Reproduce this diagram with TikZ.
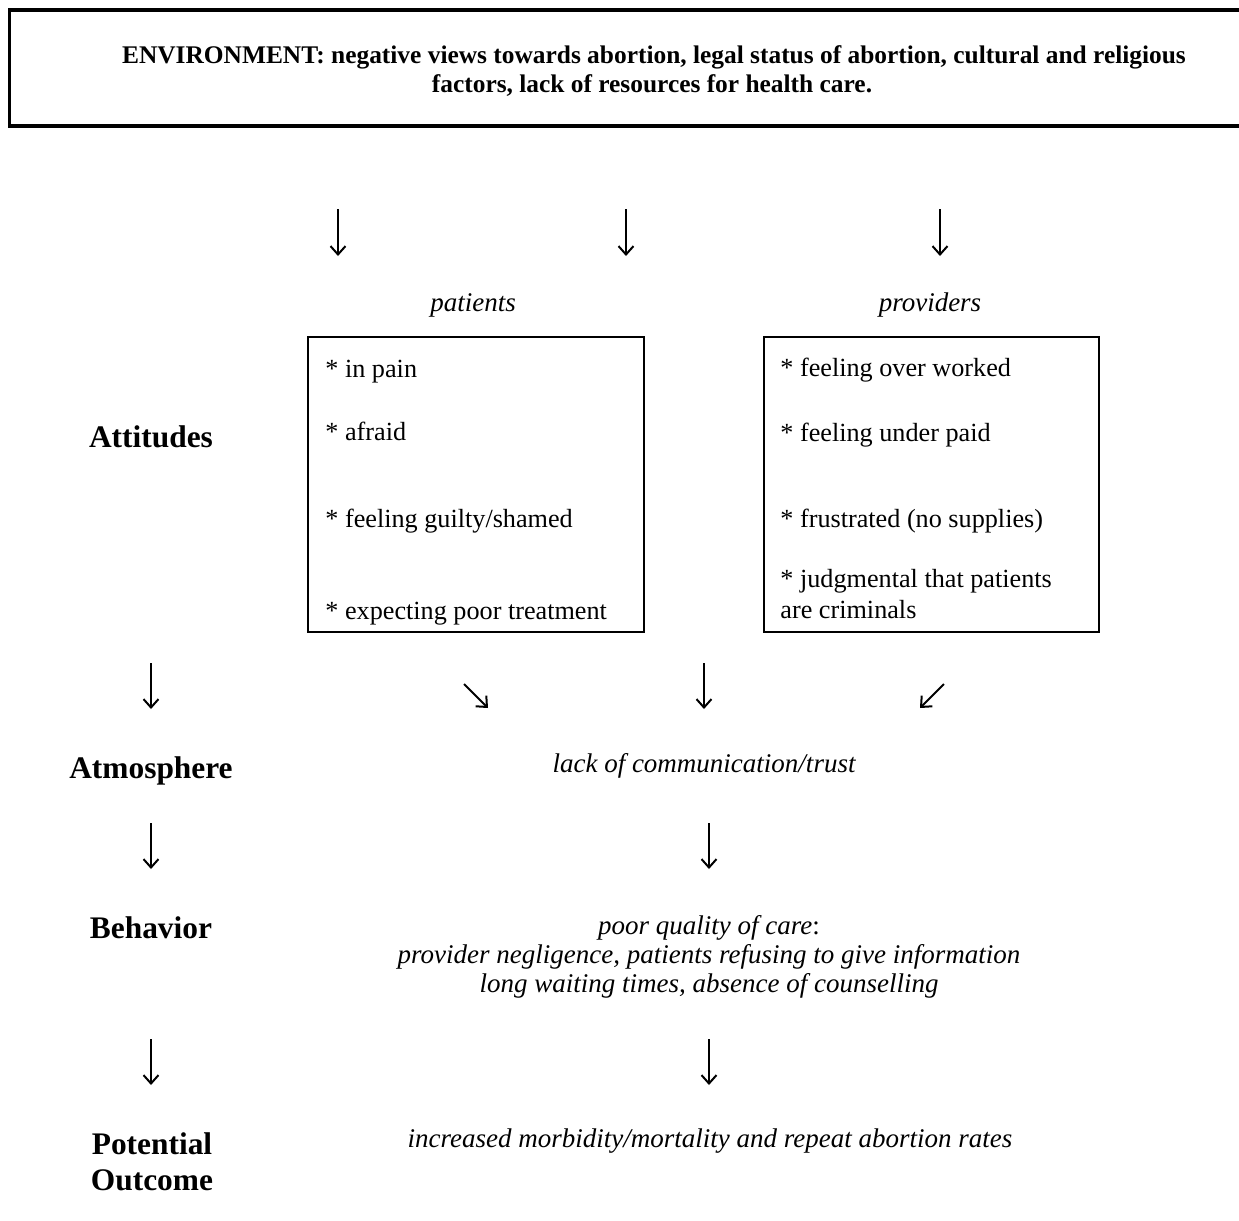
\documentclass[tikz,border=0pt]{standalone}
\usepackage{fontspec}
\setmainfont{Liberation Serif}
\usetikzlibrary{arrows.meta}
\newcommand{\bodyfs}{\fontsize{13.1}{15}\selectfont}
\newcommand{\itfs}{\fontsize{13.5}{15.5}\selectfont\itshape}
\newcommand{\labfs}{\fontsize{15.7}{18}\selectfont\bfseries}
\newcommand{\envfs}{\fontsize{12.7}{14.6}\selectfont\bfseries}
\begin{document}
\begin{tikzpicture}[x=0.5pt,y=-0.5pt,
  arr/.style={line width=1pt,-{Straight Barb[length=4.2pt,width=7.5pt,line width=1pt]}},
  frame/.style={draw,line width=1.35pt,rectangle,inner sep=0pt},
  item/.style={anchor=base west,inner sep=0pt,font=\bodyfs},
  lab/.style={anchor=base,inner sep=0pt,font=\labfs},
  ctext/.style={anchor=base,inner sep=0pt,font=\itfs},
  envtext/.style={anchor=base,inner sep=0pt,font=\envfs}]
\useasboundingbox (0,0) rectangle (1239,1221);
% environment box (right side runs off the page)
\node[frame,line width=1.7pt,minimum width=642.75pt,minimum height=58pt] (env) at (652.25,68) {};
\node[envtext] (env1) at (654,63) {ENVIRONMENT: negative views towards abortion, legal status of abortion, cultural and religious};
\node[envtext] (env2) at (652,92) {factors, lack of resources for health care.};
% top arrows
\coordinate (t1s) at (338,209); \coordinate (t1e) at (338,256);
\coordinate (t2s) at (626,209); \coordinate (t2e) at (626,256);
\coordinate (t3s) at (940,209); \coordinate (t3e) at (940,256);
\draw[arr] (t1s) -- (t1e);
\draw[arr] (t2s) -- (t2e);
\draw[arr] (t3s) -- (t3e);
% column headers
\node[ctext] (pat) at (473,311) {patients};
\node[ctext] (prov) at (930,311) {providers};
% boxes
\node[frame,minimum width=168pt,minimum height=147.5pt] (patbox) at (476,484.5) {};
\node[frame,minimum width=167.5pt,minimum height=147.5pt] (provbox) at (931.5,484.5) {};
\node[item] (p1) at (325,377) {* in pain};
\node[item] (p2) at (325,440) {* afraid};
\node[item] (p3) at (325,527) {* feeling guilty/shamed};
\node[item] (p4) at (325,619) {* expecting poor treatment};
\node[item] (q1) at (780,376) {* feeling over worked};
\node[item] (q2) at (780,441) {* feeling under paid};
\node[item] (q3) at (780,527) {* frustrated (no supplies)};
\node[item] (q4) at (780,587) {* judgmental that patients};
\node[item] (q5) at (780,618) {are criminals};
% left labels
\node[lab] (att) at (151,447) {Attitudes};
\node[lab] (atm) at (151,778) {Atmosphere};
\node[lab] (beh) at (151,938) {Behavior};
\node[lab] (pot) at (152,1154) {Potential};
\node[lab] (out) at (152,1190) {Outcome};
% left arrows
\coordinate (l1s) at (151,663); \coordinate (l1e) at (151,709);
\coordinate (l2s) at (151,823); \coordinate (l2e) at (151,869);
\coordinate (l3s) at (151,1039); \coordinate (l3e) at (151,1085);
\draw[arr] (l1s) -- (l1e);
\draw[arr] (l2s) -- (l2e);
\draw[arr] (l3s) -- (l3e);
% middle row arrows
\coordinate (d1s) at (464,684); \coordinate (d1e) at (488,708);
\coordinate (m1s) at (704,663); \coordinate (m1e) at (704,709);
\coordinate (d2s) at (944,684); \coordinate (d2e) at (920,708);
\draw[arr] (d1s) -- (d1e);
\draw[arr] (m1s) -- (m1e);
\draw[arr] (d2s) -- (d2e);
% centre column
\node[ctext] (lack) at (704,772) {lack of communication/trust};
\coordinate (m2s) at (709,823); \coordinate (m2e) at (709,869);
\draw[arr] (m2s) -- (m2e);
\node[ctext] (care1) at (709,934) {poor quality of care\upshape:};
\node[ctext] (care2) at (709,963) {provider negligence, patients refusing to give information};
\node[ctext] (care3) at (709,992) {long waiting times, absence of counselling};
\coordinate (m3s) at (709,1039); \coordinate (m3e) at (709,1085);
\draw[arr] (m3s) -- (m3e);
\node[ctext] (res) at (710,1147) {increased morbidity/mortality and repeat abortion rates};
\end{tikzpicture}
\end{document}
